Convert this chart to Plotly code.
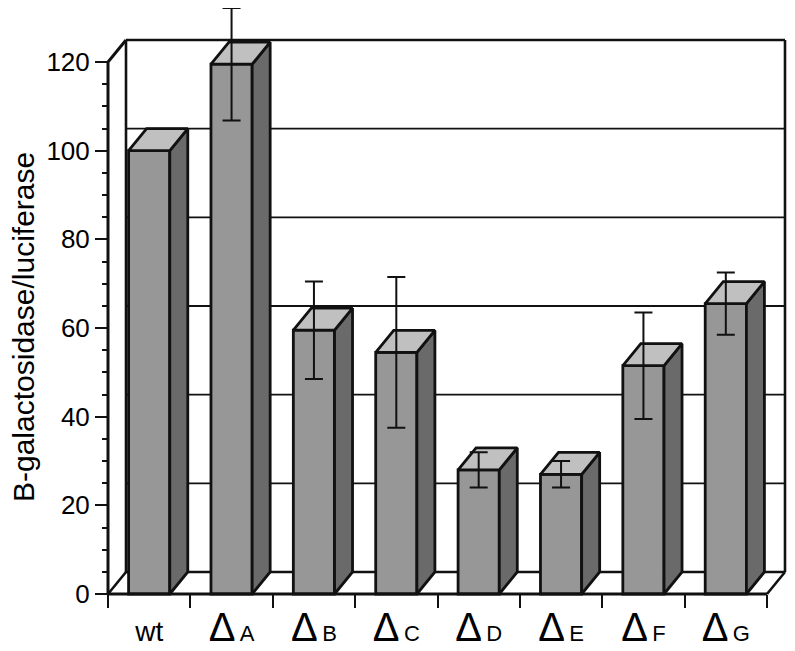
import plotly.graph_objects as go

# ---- data ----
categories = ["wt", "ΔA", "ΔB", "ΔC", "ΔD", "ΔE", "ΔF", "ΔG"]
tick_labels = [
    "<span style='font-size:28px'>wt</span>",
    "Δ<span style='font-size:22px'>\u2009A</span>",
    "Δ<span style='font-size:22px'>\u2009B</span>",
    "Δ<span style='font-size:22px'>\u2009C</span>",
    "Δ<span style='font-size:22px'>\u2009D</span>",
    "Δ<span style='font-size:22px'>\u2009E</span>",
    "Δ<span style='font-size:22px'>\u2009F</span>",
    "Δ<span style='font-size:22px'>\u2009G</span>",
]
values = [100, 119.5, 59.5, 54.5, 28, 27, 51.5, 65.5]
errors = [None, 12.7, 11, 17, 4, 3, 12, 7]
y_tick_vals = [0, 20, 40, 60, 80, 100, 120]
y_minor_vals = [v for v in range(5, 120, 5) if v % 20 != 0]
y_title = "B-galactosidase/luciferase"

# ---- geometry / style (page body has an 8px margin) ----
OFF = 8
W, H = 795 - OFF, 651 - OFF
ML, MR, MT, MB = 92, 5, 0, 45
PW, PH = W - ML - MR, H - MT - MB
X0_PX, XS = 108 - OFF, 82.375   # pixel of x=-0.5, px per category
Y0_PX, YS = 594 - OFF, 4.4333   # pixel of y=0, px per unit
DX = 18 / XS                    # depth offset in category units
DY = 22 / YS                    # depth offset in value units
BW = 0.5                        # bar front width
n = len(categories)
xpos = list(range(n))
XL, XR = -0.5, n - 0.5
YTOP = y_tick_vals[-1]

xr0 = XL - (X0_PX - ML) / XS
xr1 = xr0 + PW / XS
yr0 = -(MT + PH - Y0_PX) / YS
yr1 = (Y0_PX - MT) / YS

FRONT, SIDE, TOP = "#979797", "#6a6a6a", "#c0c0c0"
INK = "#111111"

fig = go.Figure()

# back wall + floor (below bars)
shapes = []
for v in y_tick_vals:
    shapes.append(dict(type="line", xref="x", yref="y", layer="below",
                       x0=XL + DX, x1=XR + DX, y0=v + DY, y1=v + DY,
                       line=dict(color=INK, width=2.5 if v in (0, YTOP) else 1.8)))
shapes.append(dict(type="line", xref="x", yref="y", layer="below",
                   x0=XL + DX, x1=XL + DX, y0=DY, y1=YTOP + DY, line=dict(color=INK, width=2.6)))
shapes.append(dict(type="line", xref="x", yref="y", layer="below",
                   x0=XR + DX, x1=XR + DX, y0=DY, y1=YTOP + DY, line=dict(color=INK, width=2.6)))
shapes.append(dict(type="line", xref="x", yref="y", layer="below",
                   x0=XL, x1=XL + DX, y0=0, y1=DY, line=dict(color=INK, width=2.6)))
shapes.append(dict(type="line", xref="x", yref="y", layer="below",
                   x0=XR, x1=XR + DX, y0=0, y1=DY, line=dict(color=INK, width=2.6)))

# bar fronts
fig.add_trace(go.Bar(x=xpos, y=values, width=BW, base=0,
                     marker=dict(color=FRONT, line=dict(color=INK, width=2.8)),
                     hoverinfo="skip", showlegend=False))

# side faces
sx, sy = [], []
for x, v in zip(xpos, values):
    r = x + BW / 2
    sx += [r, r + DX, r + DX, r, r, None]
    sy += [0, DY, v + DY, v, 0, None]
fig.add_trace(go.Scatter(x=sx, y=sy, mode="lines", fill="toself", fillcolor=SIDE,
                         line=dict(color=INK, width=2.8), hoverinfo="skip", showlegend=False))
# top faces
tx, ty = [], []
for x, v in zip(xpos, values):
    l, r = x - BW / 2, x + BW / 2
    tx += [l, r, r + DX, l + DX, l, None]
    ty += [v, v, v + DY, v + DY, v, None]
fig.add_trace(go.Scatter(x=tx, y=ty, mode="lines", fill="toself", fillcolor=TOP,
                         line=dict(color=INK, width=2.8), hoverinfo="skip", showlegend=False))

# front-left wall edge and front floor edge
fig.add_trace(go.Scatter(x=[XL, XL, XL + DX], y=[0, YTOP, YTOP + DY], mode="lines",
                         line=dict(color=INK, width=3), hoverinfo="skip", showlegend=False))
fig.add_trace(go.Scatter(x=[XL, XR], y=[0, 0], mode="lines",
                         line=dict(color=INK, width=3.2), hoverinfo="skip", showlegend=False))

# error bars
ex = [x for x, e in zip(xpos, errors) if e is not None]
ey = [v for v, e in zip(values, errors) if e is not None]
ee = [e for e in errors if e is not None]
fig.add_trace(go.Scatter(x=ex, y=ey, mode="markers", marker=dict(size=1, opacity=0),
                         cliponaxis=False,
                         error_y=dict(type="data", array=ee, symmetric=True,
                                      color=INK, thickness=2, width=9),
                         hoverinfo="skip", showlegend=False))

fig.update_layout(
    template="none",
    width=W, height=H,
    margin=dict(l=ML, r=MR, t=MT, b=MB, autoexpand=False),
    paper_bgcolor="white", plot_bgcolor="white",
    font=dict(family="Liberation Sans, Arial, sans-serif", color="black"),
    shapes=shapes,
    xaxis=dict(range=[xr0, xr1], anchor="free", position=(PH - (Y0_PX - MT)) / PH,
               automargin=False,
               tickvals=xpos, ticktext=tick_labels, ticks="", ticklabelstandoff=6,
               tickfont=dict(size=40, color="black"),
               showgrid=False, zeroline=False, showline=False,
               minor=dict(tickvals=[i - 0.5 for i in range(n + 1)], ticks="outside",
                          ticklen=13, tickwidth=2, tickcolor=INK, showgrid=False)),
    yaxis=dict(range=[yr0, yr1], anchor="free", position=(X0_PX - ML) / PW,
               automargin=False,
               tickvals=y_tick_vals, ticks="outside", ticklen=13, tickwidth=2, tickcolor=INK,
               tickfont=dict(size=26, color="black"),
               showgrid=False, zeroline=False, showline=False,
               minor=dict(tickvals=y_minor_vals, ticks="outside", ticklen=6, tickwidth=1.5,
                          tickcolor=INK, showgrid=False)),
    annotations=[dict(text=y_title, textangle=-90, xref="paper", yref="paper",
                      x=(23 - OFF - ML) / PW, y=(PH - (327 - OFF - MT)) / PH,
                      xanchor="center", yanchor="middle", showarrow=False,
                      font=dict(size=30, color="black"))],
)

fig.write_html("out.html")
